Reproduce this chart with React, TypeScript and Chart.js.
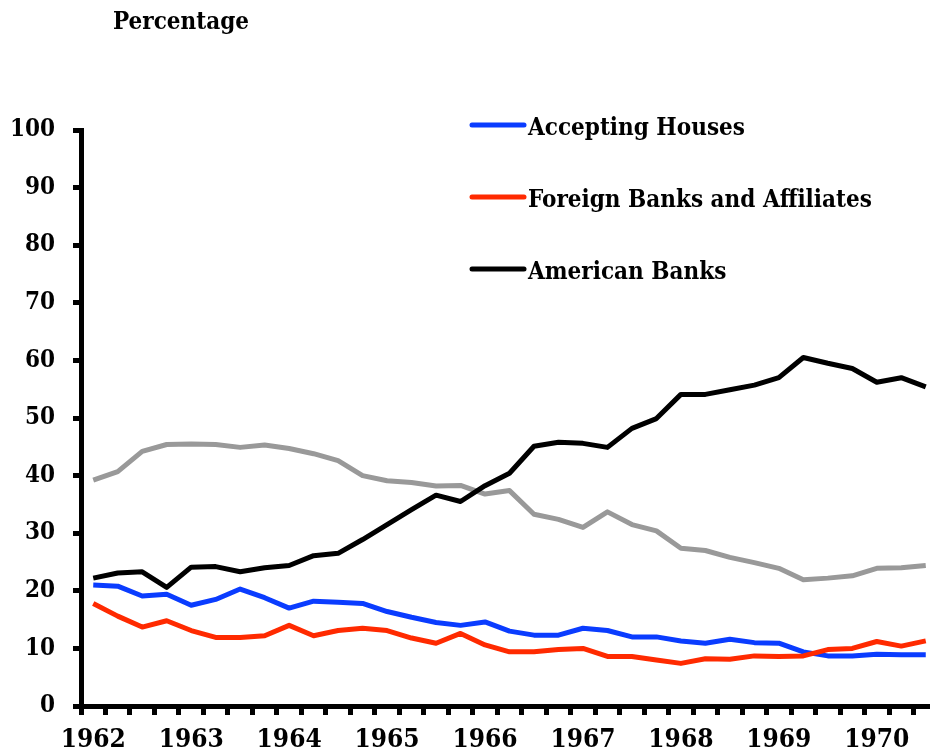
import React, { useEffect, useRef } from "react";
import { Chart, registerables } from "chart.js";

Chart.register(...registerables);

// ---- Data ----
const yearTickLabels = ["1962", "1963", "1964", "1965", "1966", "1967", "1968", "1969", "1970"];
const quarterNames = ["Q1", "Q2", "Q3", "Q4"];
const categories = yearTickLabels
  .flatMap((y) => quarterNames.map((q) => `${y} ${q}`))
  .slice(0, 35);

const acceptingHouses = [
  21.0, 20.8, 19.1, 19.4, 17.5, 18.5, 20.3, 18.8, 17.0, 18.2, 18.0, 17.8, 16.4, 15.4, 14.5, 14.0,
  14.6, 13.0, 12.3, 12.3, 13.5, 13.1, 12.0, 12.0, 11.3, 10.9, 11.6, 11.0, 10.9, 9.4, 8.7, 8.7,
  9.0, 8.9, 8.9,
];
const foreignBanks = [
  17.8, 15.6, 13.7, 14.8, 13.1, 11.9, 11.9, 12.2, 14.0, 12.2, 13.1, 13.5, 13.1, 11.8, 10.9, 12.6,
  10.6, 9.4, 9.4, 9.8, 10.0, 8.6, 8.6, 8.0, 7.4, 8.2, 8.1, 8.7, 8.6, 8.7, 9.8, 10.0, 11.2, 10.4,
  11.3,
];
const americanBanks = [
  22.2, 23.1, 23.3, 20.6, 24.1, 24.2, 23.3, 24.0, 24.4, 26.1, 26.5, 28.9, 31.5, 34.1, 36.6, 35.5,
  38.25, 40.4, 45.1, 45.8, 45.6, 44.9, 48.2, 49.9, 54.1, 54.1, 54.9, 55.7, 57.0, 60.5, 59.5, 58.6,
  56.2, 57.0, 55.4,
];
const otherBanks = [
  39.2, 40.7, 44.2, 45.4, 45.5, 45.4, 44.9, 45.3, 44.7, 43.8, 42.6, 40.0, 39.1, 38.8, 38.2, 38.3,
  36.8, 37.4, 33.3, 32.4, 31.0, 33.7, 31.5, 30.4, 27.4, 27.0, 25.8, 24.9, 23.9, 21.9, 22.2, 22.6,
  23.9, 24.0, 24.4,
];
const legendLabels = ["Accepting Houses", "Foreign Banks and Affiliates", "American Banks"];
const axisTitle = "Percentage";

const FONT = "'DejaVu Serif Condensed', 'DejaVu Serif', serif";

const titlePlugin = {
  id: "pctTitle",
  afterDraw(chart: any) {
    const ctx = chart.ctx;
    ctx.save();
    ctx.font = `bold 24px ${FONT}`;
    ctx.fillStyle = "#000";
    ctx.textAlign = "left";
    ctx.textBaseline = "alphabetic";
    ctx.fillText(axisTitle, 113, 29);
    ctx.restore();
  },
};

const legendPlugin = {
  id: "customLegend",
  afterDatasetsDraw(chart: any) {
    const ctx = chart.ctx;
    ctx.save();
    let k = 0;
    chart.data.datasets.forEach((ds: any) => {
      if (!ds.showInLegend) return;
      const y = 125 + k * 72;
      ctx.beginPath();
      ctx.strokeStyle = ds.borderColor;
      ctx.lineWidth = 5;
      ctx.lineCap = "round";
      ctx.moveTo(472, y);
      ctx.lineTo(524, y);
      ctx.stroke();
      ctx.font = `bold 24px ${FONT}`;
      ctx.fillStyle = "#000";
      ctx.textAlign = "left";
      ctx.textBaseline = "alphabetic";
      ctx.fillText(ds.label, 528, y + 10);
      k++;
    });
    ctx.restore();
  },
};

export default function App() {
  const canvasRef = useRef<HTMLCanvasElement | null>(null);

  useEffect(() => {
    if (!canvasRef.current) return;
    const chart = new Chart(canvasRef.current, {
      type: "line",
      data: {
        labels: categories,
        datasets: [
          {
            label: legendLabels[0],
            data: acceptingHouses,
            borderColor: "#0a3cff",
            showInLegend: true,
            order: 2,
          } as any,
          {
            label: legendLabels[1],
            data: foreignBanks,
            borderColor: "#ff2a00",
            showInLegend: true,
            order: 0,
          } as any,
          {
            label: legendLabels[2],
            data: americanBanks,
            borderColor: "#000000",
            showInLegend: true,
            order: 1,
          } as any,
          {
            label: "Other",
            data: otherBanks,
            borderColor: "#999999",
            showInLegend: false,
            order: 3,
          } as any,
        ].map((d) => ({
          ...d,
          borderWidth: 5,
          pointRadius: 0,
          tension: 0,
          fill: false,
          borderJoinStyle: "round",
        })),
      },
      options: {
        responsive: false,
        animation: false,
        layout: { padding: { top: 130, right: 12, left: 0, bottom: 0 } },
        plugins: {
          legend: { display: false },
          tooltip: { enabled: false },
          title: { display: false },
        },
        scales: {
          x: {
            type: "category",
            offset: true,
            afterFit: (s: any) => {
              s.height = 47;
            },
            border: { display: true, color: "#000", width: 5 },
            grid: {
              display: true,
              offset: true,
              drawOnChartArea: false,
              drawTicks: true,
              tickLength: 9,
              color: "#000",
              lineWidth: 5,
            },
            ticks: {
              autoSkip: false,
              maxRotation: 0,
              padding: 10,
              color: "#000",
              font: { family: FONT, size: 26, weight: "bold" },
              callback: (_v: any, i: number) => (i % 4 === 0 ? yearTickLabels[i / 4] : ""),
            },
          },
          y: {
            min: 0,
            max: 100,
            afterFit: (s: any) => {
              s.width = 81;
            },
            border: { display: true, color: "#000", width: 5 },
            grid: {
              display: true,
              drawOnChartArea: false,
              drawTicks: true,
              tickLength: 8,
              color: "#000",
              lineWidth: 5,
            },
            ticks: {
              stepSize: 10,
              padding: 18,
              color: "#000",
              font: { family: FONT, size: 24, weight: "bold" },
            },
          },
        },
      } as any,
      plugins: [titlePlugin, legendPlugin],
    });
    return () => chart.destroy();
  }, []);

  return (
    <div
      style={{
        position: "fixed",
        left: 0,
        top: 0,
        width: 930,
        height: 753,
        overflow: "hidden",
        background: "#fff",
      }}
    >
      <canvas ref={canvasRef} width={950} height={753} style={{ display: "block" }} />
    </div>
  );
}
